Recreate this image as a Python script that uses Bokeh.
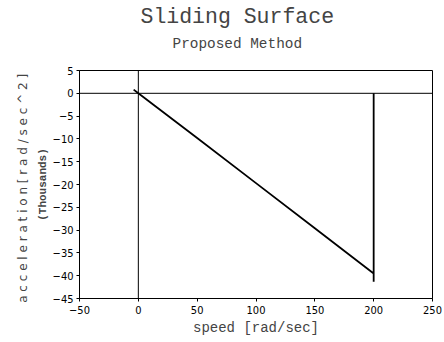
from bokeh.plotting import figure
from bokeh.models import Span, FixedTicker, Range1d, Title, LinearAxis
from bokeh.embed import file_html
from bokeh.resources import INLINE

# data (acceleration in thousands of rad/sec^2)
speed = [200, 200, 200, 150, 100, 50, 0, -4]
accel = [0, -41.3, -39.5, -29.6, -19.7, -9.8, 0, 0.8]

x_ticks = [-50, 0, 50, 100, 150, 200, 250]
y_ticks = [5, 0, -5, -10, -15, -20, -25, -30, -35, -40, -45]

title_text = "Sliding Surface"
subtitle_text = "Proposed Method"
x_label = "speed [rad/sec]"
y_label = "acceleration [rad/sec^2]"
y_unit = "(Thousands)"

W, H = 444, 342

mono = "Liberation Mono, DejaVu Sans Mono, monospace"
narrow = "Liberation Sans Narrow, DejaVu Sans Condensed, sans-serif"

p = figure(width=W, height=H, output_backend="svg", toolbar_location=None,
           title=None,
           x_range=Range1d(-50, 250), y_range=Range1d(-45, 5),
           min_border_left=79, min_border_right=12, min_border_top=70, min_border_bottom=44)
p.xgrid.visible = False
p.ygrid.visible = False
p.outline_line_color = "black"
p.outline_line_width = 1
p.background_fill_color = "white"
p.border_fill_color = "white"

for ax in (p.xaxis[0], p.yaxis[0]):
    ax.axis_line_color = "black"
    ax.major_tick_in = 0
    ax.major_tick_out = 3
    ax.minor_tick_in = 0
    ax.minor_tick_out = 0
    ax.major_label_text_font = narrow
    ax.major_label_text_font_size = "11px"
    ax.major_label_text_color = "black"
p.xaxis.ticker = FixedTicker(ticks=x_ticks)
p.yaxis.ticker = FixedTicker(ticks=y_ticks)
p.xaxis.major_label_standoff = 4
p.yaxis.major_label_standoff = 3

p.xaxis.axis_label = x_label
p.xaxis.axis_label_text_font = mono
p.xaxis.axis_label_text_font_size = "14px"
p.xaxis.axis_label_text_font_style = "normal"
p.xaxis.axis_label_standoff = 3

p.yaxis.axis_label = y_unit
p.yaxis.axis_label_text_font = mono
p.yaxis.axis_label_text_font_size = "11px"
p.yaxis.axis_label_text_font_style = "bold"
p.yaxis.axis_label_standoff = 1

outer = LinearAxis(ticker=FixedTicker(ticks=[]), axis_line_color=None,
                   major_tick_line_color=None, minor_tick_line_color=None,
                   major_label_text_font_size="0px",
                   axis_label=" ".join(y_label), axis_label_text_font="DejaVu Sans",
                   axis_label_text_font_size="12px", axis_label_text_font_style="normal",
                   axis_label_standoff=4)
p.add_layout(outer, "left")

p.add_layout(Span(location=0, dimension="width", line_color="black", line_width=1))
p.add_layout(Span(location=0, dimension="height", line_color="black", line_width=1))

p.line(speed, accel, line_color="black", line_width=1.8)

p.add_layout(Title(text=subtitle_text, align="left", text_font=mono,
                   text_font_size="14.4px", text_font_style="normal", offset=93,
                   standoff=37), "above")
p.add_layout(Title(text=title_text, align="left", text_font=mono,
                   text_font_size="21.5px", text_font_style="normal", offset=61,
                   standoff=-26), "above")

open("out.html", "w").write(file_html(p, INLINE))
